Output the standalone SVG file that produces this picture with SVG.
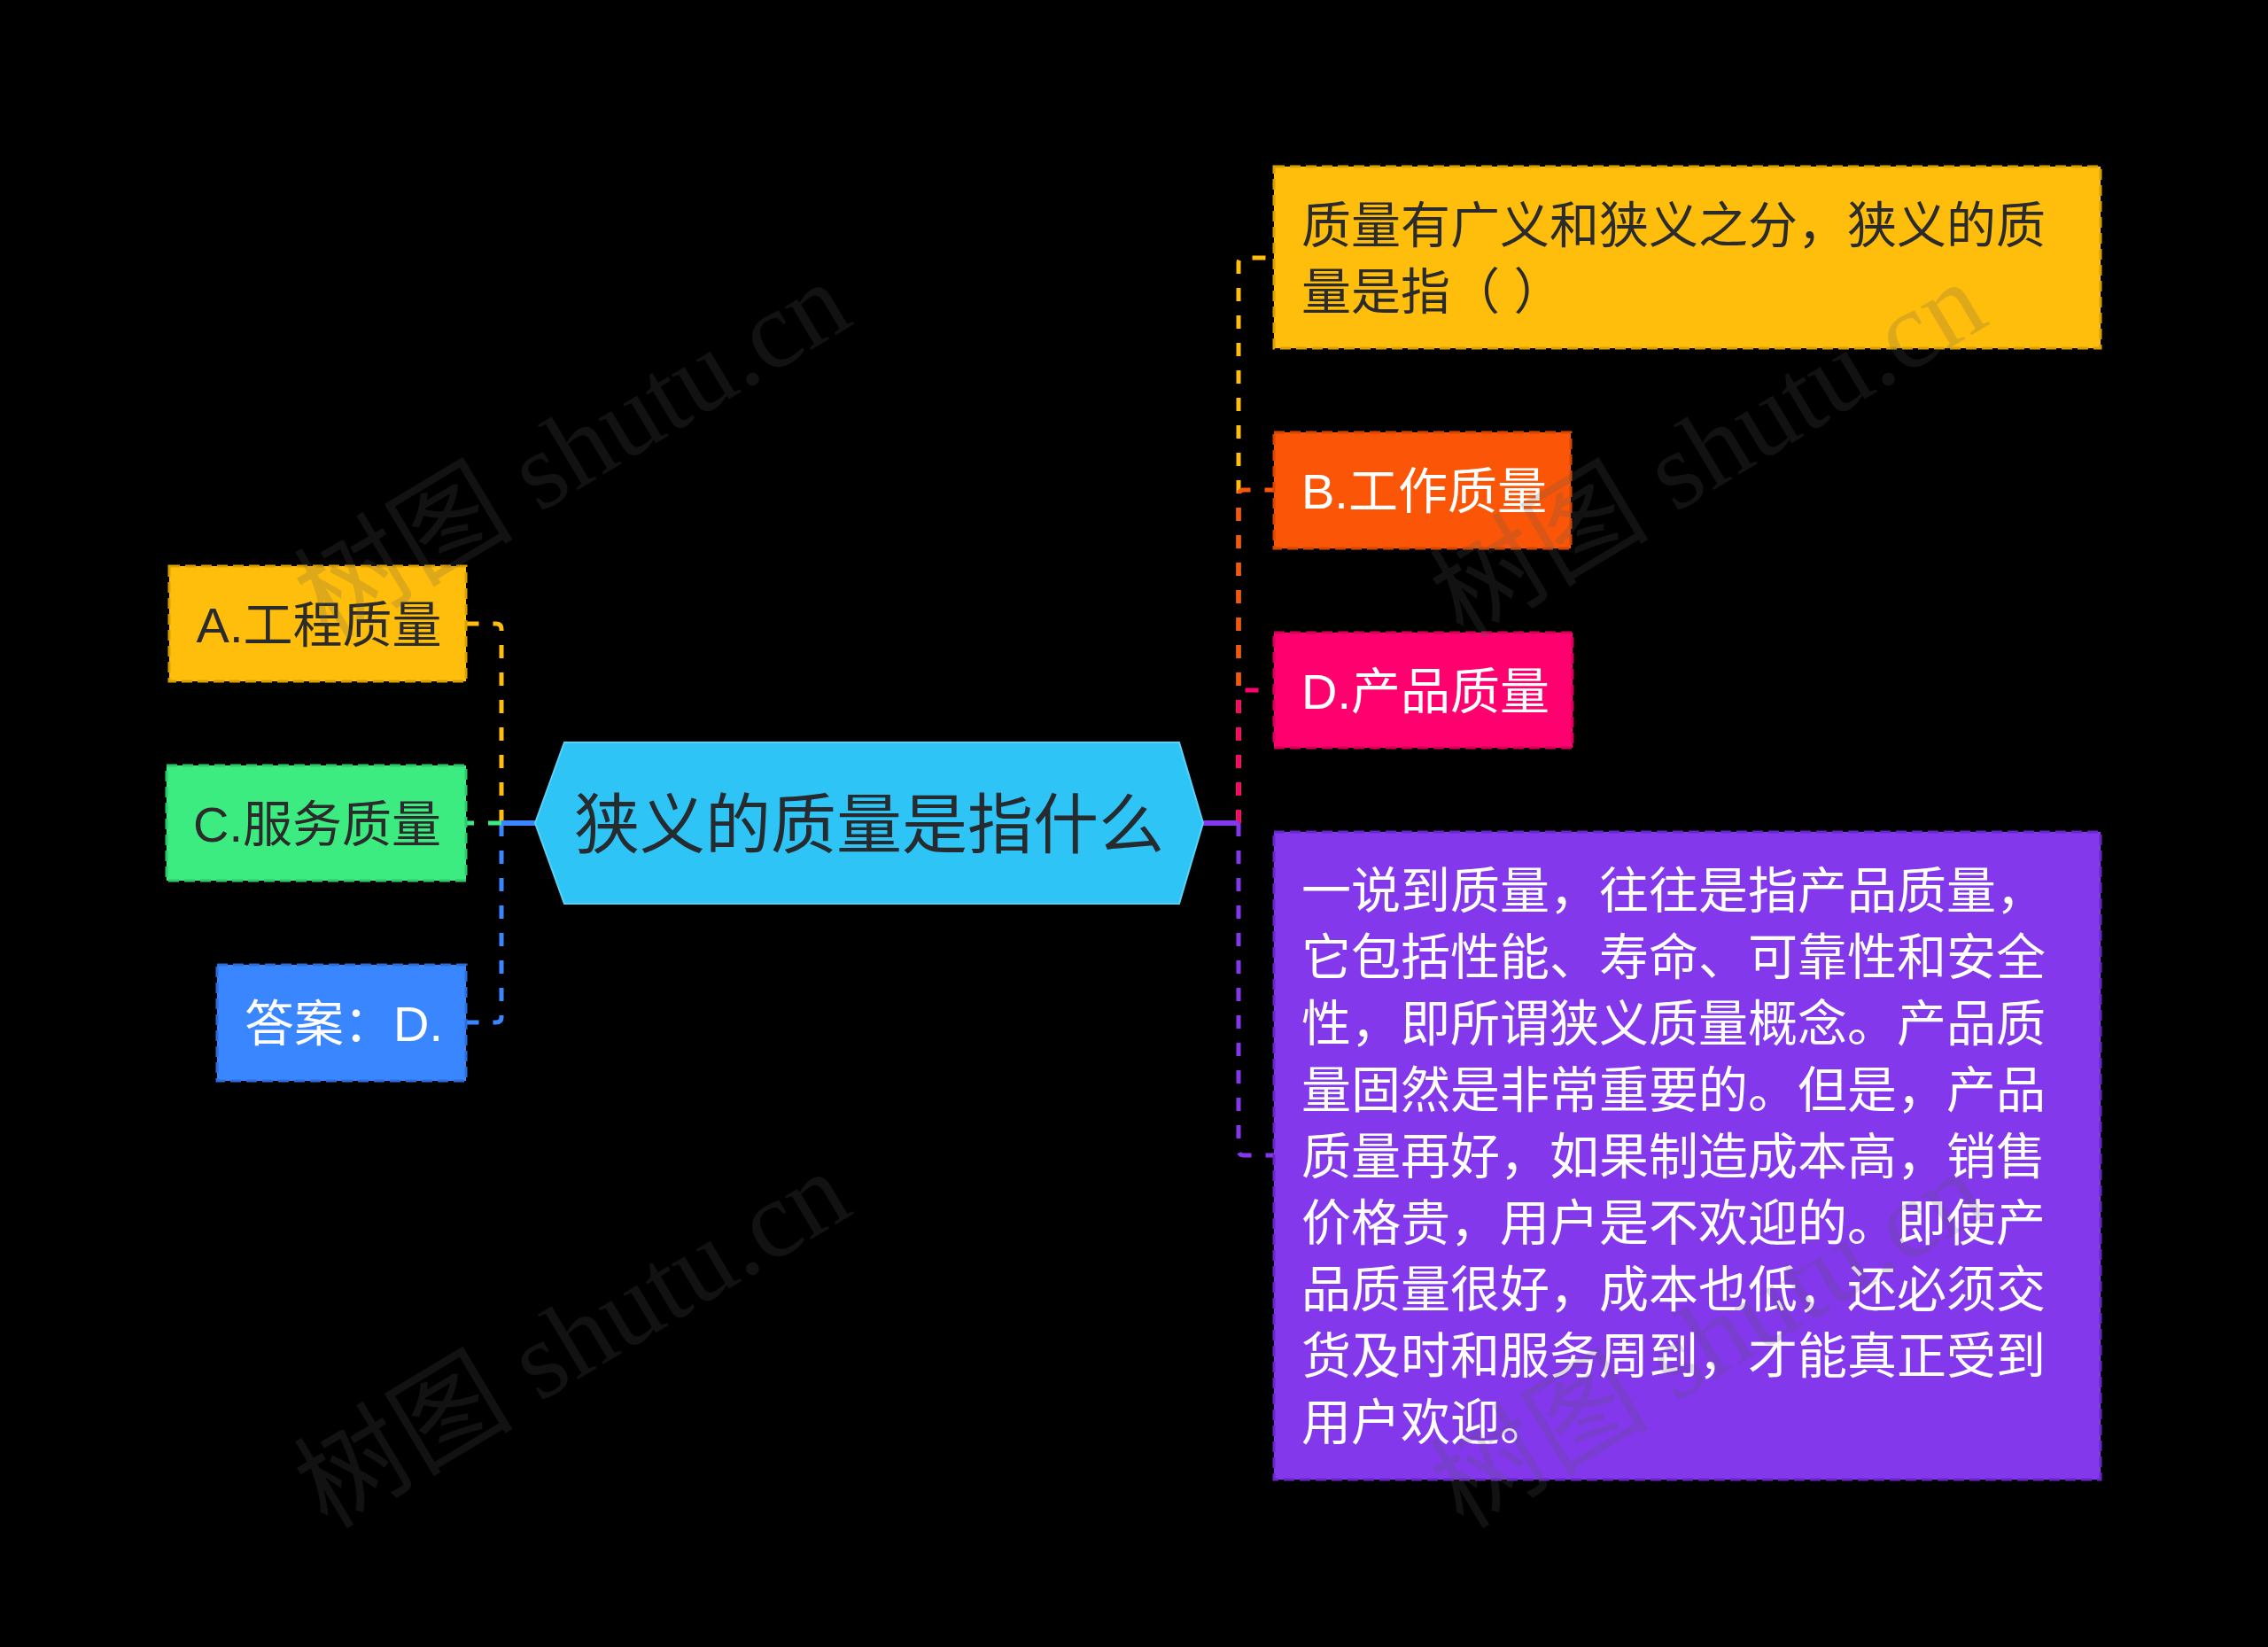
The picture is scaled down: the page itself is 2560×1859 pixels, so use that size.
<svg xmlns="http://www.w3.org/2000/svg" width="2560" height="1859" viewBox="0 0 2560 1859">
<style>
.t{font-family:"Liberation Sans","Noto Sans CJK SC",sans-serif;font-size:56px;}
.dark{fill:#2b2b2b;}
.light{fill:#ffffff;}
.box{stroke-width:3;stroke-dasharray:12 6;}
.conn{fill:none;stroke-width:5;stroke-dasharray:15 16;}
.solid{fill:none;stroke-width:6;}
.wm{font-family:"Liberation Serif","Noto Sans CJK SC",serif;font-size:124px;fill:#5a5a5a;opacity:0.2;}
</style>
<rect width="2560" height="1859" fill="#000"/>

<g id="connectors">
  <!-- left -->
  <path class="conn" stroke="#ffbe0b" d="M566,929 V710 Q566,704 560,704 H526"/>
  <path class="conn" stroke="#3a86ff" d="M566,929 V1148 Q566,1154 560,1154 H526"/>
  <path class="conn" stroke="#3dec80" d="M566,929 H526"/>
  <path class="solid" stroke="#3a86ff" d="M566,929 H606"/>
  <!-- right -->
  <path class="conn" stroke="#ffbe0b" d="M1398,929 V297 Q1398,291 1404,291 H1438"/>
  <path class="conn" stroke="#fb5607" d="M1398,929 V559 Q1398,553 1404,553 H1438"/>
  <path class="conn" stroke="#ff006e" d="M1398,929 V785 Q1398,779 1404,779 H1438"/>
  <path class="conn" stroke="#8338ec" d="M1398,929 V1298 Q1398,1304 1404,1304 H1438"/>
  <path class="solid" stroke="#8338ec" d="M1356,929 H1398"/>
</g>

<g id="root">
  <polygon points="604,929 637,838 1331,838 1358,929 1331,1020 637,1020" fill="#2ec4f6" stroke="#5ad2f8" stroke-width="2"/>
  <text class="t" x="981" y="957" text-anchor="middle" style="font-size:74px" fill="#262b2f">狭义的质量是指什么</text>
</g>

<g id="nodeA">
  <rect class="box" x="191" y="639" width="335" height="130" fill="#ffbe0b" stroke="#d9a000"/>
  <text class="t dark" x="360" y="725" text-anchor="middle">A.工程质量</text>
</g>
<g id="nodeC">
  <rect class="box" x="188" y="864" width="338" height="130" fill="#3dec80" stroke="#2fc86a"/>
  <text class="t dark" x="358" y="950" text-anchor="middle">C.服务质量</text>
</g>
<g id="nodeAnswer">
  <rect class="box" x="245" y="1089" width="281" height="131" fill="#3a86ff" stroke="#2c6ed8"/>
  <text class="t light" x="388" y="1175" text-anchor="middle">答案：D.</text>
</g>

<g id="nodeQ">
  <rect class="box" x="1438" y="188" width="933" height="205" fill="#ffbe0b" stroke="#d9a000"/>
  <text class="t dark" x="1469" y="274">质量有广义和狭义之分，狭义的质</text>
  <text class="t dark" x="1469" y="349" xml:space="preserve">量是指（ ）</text>
</g>
<g id="nodeB">
  <rect class="box" x="1438" y="488" width="335" height="131" fill="#fb5607" stroke="#d64600"/>
  <text class="t light" x="1469" y="574">B.工作质量</text>
</g>
<g id="nodeD">
  <rect class="box" x="1438" y="714" width="337" height="130" fill="#ff006e" stroke="#d6005c"/>
  <text class="t light" x="1469" y="800">D.产品质量</text>
</g>
<g id="nodeExplain">
  <rect class="box" x="1438" y="939" width="933" height="731" fill="#8338ec" stroke="#6a24cc"/>
  <text class="t light" x="1469" y="1025">
    <tspan x="1469" y="1025">一说到质量，往往是指产品质量，</tspan>
    <tspan x="1469" y="1100">它包括性能、寿命、可靠性和安全</tspan>
    <tspan x="1469" y="1175">性，即所谓狭义质量概念。产品质</tspan>
    <tspan x="1469" y="1250">量固然是非常重要的。但是，产品</tspan>
    <tspan x="1469" y="1325">质量再好，如果制造成本高，销售</tspan>
    <tspan x="1469" y="1400">价格贵，用户是不欢迎的。即使产</tspan>
    <tspan x="1469" y="1475">品质量很好，成本也低，还必须交</tspan>
    <tspan x="1469" y="1550">货及时和服务周到，才能真正受到</tspan>
    <tspan x="1469" y="1625">用户欢迎。</tspan>
  </text>
</g>

<g id="watermarks">
  <text class="wm" x="645" y="550" text-anchor="middle" transform="rotate(-31 645 506)">树图 shutu.cn</text>
  <text class="wm" x="645" y="1554" text-anchor="middle" transform="rotate(-31 645 1510)">树图 shutu.cn</text>
  <text class="wm" x="1927" y="550" text-anchor="middle" transform="rotate(-31 1927 506)">树图 shutu.cn</text>
  <text class="wm" x="1927" y="1554" text-anchor="middle" transform="rotate(-31 1927 1510)">树图 shutu.cn</text>
</g>
</svg>
